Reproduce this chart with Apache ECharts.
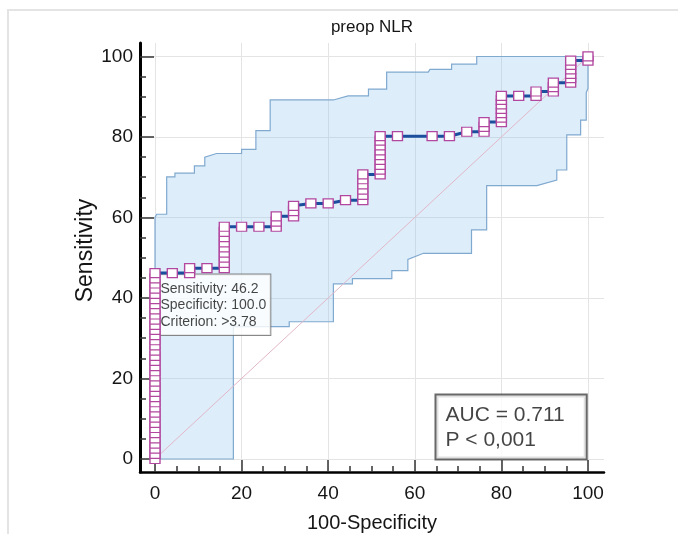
<!DOCTYPE html>
<html><head><meta charset="utf-8">
<script src="https://cdn.jsdelivr.net/npm/echarts@6/dist/echarts.min.js"></script>
<style>html,body{margin:0;padding:0;background:#fff}#c{width:678px;height:534px}</style>
</head><body><div id="c"></div>
<script>
// ---- texts ----
const titleText = 'preop NLR';
const xName = '100-Specificity';
const yName = 'Sensitivity';
// ---- ticks ----
const tickValues = [0, 20, 40, 60, 80, 100];
const minorTickValues = [5, 10, 15, 25, 30, 35, 45, 50, 55, 65, 70, 75, 85, 90, 95];
// ---- ROC points (100-Specificity, Sensitivity) ----
const rocFpr = [
  0,0,0,0,0,0,0,0,0,0,0,0,0,0,0,0,0,0,0,0,0,0,0,0,0,0,0,0,0,0,0,0,0,0,0,0,0,
  4, 8,8, 12,
  16,16,16,16,16,16,16,16,16,
  20, 24, 28,28,28, 32,32,32, 36, 40, 44,
  48,48,48,48,48,48,
  52,52,52,52,52,52,52,52,52,
  56, 64, 68, 72, 76,76,76,
  80,80,80,80,80,80,80,
  84, 88,88, 92,92,92,
  96,96,96,96,96,96,
  100,100
];
const rocSens = [
  0,1.3,2.6,3.8,5.1,6.4,7.7,9.0,10.3,11.5,12.8,14.1,15.4,16.7,17.9,19.2,20.5,21.8,23.1,24.4,25.6,26.9,28.2,29.5,30.8,32.1,33.3,34.6,35.9,37.2,38.5,39.7,41.0,42.3,43.6,44.9,46.2,
  46.2, 46.2,47.4, 47.4,
  47.4,48.7,50.0,51.3,52.6,53.8,55.1,56.4,57.7,
  57.7, 57.7, 57.7,59.0,60.3, 60.3,61.6,62.9, 63.5, 63.5, 64.3,
  64.3,65.6,66.9,68.2,69.5,70.7,
  70.7,71.9,73.1,74.3,75.5,76.7,77.9,79.1,80.2,
  80.2, 80.2, 80.2, 81.3, 81.3,82.5,83.7,
  83.7,84.8,85.9,87.0,88.1,89.2,90.2,
  90.2, 90.2,91.3, 91.3,92.4,93.5,
  93.5,94.6,95.7,96.8,97.9,99.0,
  99.0,100
];
// ---- 95% confidence band outline (closed polygon) ----
const bandX = [0,0,0.4,2.7,2.7,4.6,4.6,9.1,9.1,11.5,11.5,14.2,20.0,20.0,23.3,23.3,26.6,26.6,41.2,44.6,49.3,49.3,53.5,53.5,63.1,63.5,68.5,68.5,74.3,74.3,100,
  100,99.6,99.6,98.3,98.3,95.1,95.1,92.8,92.8,88.2,76.6,76.6,73.1,73.1,62.0,58.4,58.4,54.7,54.7,45.6,45.6,41.2,41.2,31.0,31.0,18.1,18.1,0];
const bandY = [0,60.0,60.8,60.8,70.1,70.1,71.0,71.0,72.8,72.8,75.0,75.9,75.9,76.9,76.9,81.6,81.6,89.2,89.2,90.2,90.2,91.9,91.9,96.1,96.1,96.8,96.8,98.1,98.1,100,100,
  92.1,91.0,84.2,84.2,80.5,80.5,71.8,71.8,69.3,67.9,67.9,56.9,56.9,51.1,51.1,49.6,46.8,46.8,44.8,44.8,43.5,43.5,34.1,34.1,32.9,32.9,0,0];
// ---- reference diagonal ----
const refX = [0, 100];
const refY = [0, 100];
// ---- annotations ----
const cutSens = 46.2, cutSpec = 100.0, cutCrit = '>3.78';
const aucValue = 0.711, pText = 'P < 0,001';

const FONT = 'Liberation Sans, Arial, sans-serif';
const TXT = '#151515';
const chart = echarts.init(document.getElementById('c'), null, {renderer: 'canvas'});

const xMin = -3.464, xMax = 103.7, yMin = -3.23, yMax = 103.35;

chart.setOption({
  animation: false,
  title: {
    text: titleText, left: 367, top: 14, textAlign: 'center',
    textStyle: {fontSize: 17, fontWeight: 'normal', color: TXT, fontFamily: FONT}
  },
  graphic: [{
    type: 'rect', z: -10, silent: true,
    shape: {x: 8, y: 10, width: 720, height: 560},
    style: {fill: 'none', stroke: '#e4e4e4', lineWidth: 2}
  }],
  grid: {left: 140, top: 43, width: 464, height: 429, containLabel: false, outerBoundsMode: 'none'},
  xAxis: [{
    type: 'value', min: xMin, max: xMax, position: 'bottom',
    name: xName, nameLocation: 'middle', nameGap: 41, nameMoveOverlap: false,
    nameTextStyle: {fontSize: 20, color: TXT, fontFamily: FONT},
    axisLine: {show: true, onZero: false, lineStyle: {color: '#000', width: 2.5}},
    axisTick: {show: true, inside: true, length: 12, customValues: tickValues, lineStyle: {color: '#333', width: 1.5}},
    axisLabel: {show: true, customValues: tickValues, margin: 12, fontSize: 19, color: TXT, fontFamily: FONT},
    splitLine: {show: true, lineStyle: {color: '#e4e4e4', width: 1}}
  }, {
    type: 'value', min: xMin, max: xMax, position: 'bottom', offset: 0,
    axisLine: {show: false, onZero: false},
    axisTick: {show: true, inside: true, length: 6, customValues: minorTickValues, lineStyle: {color: '#333', width: 1.5}},
    axisLabel: {show: false},
    splitLine: {show: false}
  }],
  yAxis: [{
    type: 'value', min: yMin, max: yMax, position: 'left',
    name: yName, nameLocation: 'middle', nameGap: 43, nameMoveOverlap: false,
    nameTextStyle: {fontSize: 23, color: TXT, fontFamily: FONT, padding: [0, 0, 0, 14]},
    axisLine: {show: true, onZero: false, lineStyle: {color: '#000', width: 3}},
    axisTick: {show: true, inside: true, length: 14, customValues: tickValues, lineStyle: {color: '#333', width: 1.5}},
    axisLabel: {show: true, customValues: tickValues, margin: 7, fontSize: 19, color: TXT, fontFamily: FONT},
    splitLine: {show: true, lineStyle: {color: '#e4e4e4', width: 1}}
  }, {
    type: 'value', min: yMin, max: yMax, position: 'left', offset: 0,
    axisLine: {show: false, onZero: false},
    axisTick: {show: true, inside: true, length: 6, customValues: minorTickValues, lineStyle: {color: '#333', width: 1.5}},
    axisLabel: {show: false},
    splitLine: {show: false}
  }],
  series: [{
    type: 'custom', name: 'band', z: 1, silent: true,
    xAxisIndex: 0, yAxisIndex: 0,
    data: bandX.map((x, i) => [x, bandY[i]]),
    encode: {x: 0, y: 1},
    renderItem: function (params, api) {
      if (params.dataIndex !== 0) return null;
      const pts = bandX.map((x, i) => api.coord([x, bandY[i]]));
      return {
        type: 'polygon', shape: {points: pts},
        style: {fill: 'rgba(150,200,238,0.32)', stroke: '#80a9d0', lineWidth: 1.2}
      };
    }
  }, {
    type: 'line', name: 'ref', z: 2, silent: true,
    data: refX.map((x, i) => [x, refY[i]]),
    showSymbol: false, symbol: 'none',
    lineStyle: {color: '#e2b6c8', width: 1}
  }, {
    type: 'scatter', name: 'cut', z: 3, silent: true,
    data: [[0, cutSens]], symbolSize: 1,
    itemStyle: {color: 'rgba(0,0,0,0)'},
    label: {
      show: true, position: [1, 2], align: 'left', verticalAlign: 'top',
      formatter: 'Sensitivity: ' + cutSens.toFixed(1) + '\nSpecificity: ' + cutSpec.toFixed(1) + '\nCriterion: ' + cutCrit,
      fontSize: 14, lineHeight: 16.5, color: TXT, fontFamily: FONT,
      backgroundColor: '#fff', borderColor: '#6a6a6a', borderWidth: 1,
      padding: [6, 4, 5, 5]
    }
  }, {
    type: 'line', name: 'ROC', z: 4, silent: true,
    data: rocFpr.map((x, i) => [x, rocSens[i]]),
    showSymbol: true, showAllSymbol: true,
    symbol: 'rect', symbolSize: [10, 9],
    itemStyle: {color: '#ffffff', borderColor: '#b2479f', borderWidth: 1.3},
    lineStyle: {color: '#1b4f9e', width: 3},
    emphasis: {disabled: true}
  }, {
    type: 'scatter', name: 'auc', z: 5, silent: true,
    data: [[100, 0]], symbolSize: 1,
    itemStyle: {color: 'rgba(0,0,0,0)'},
    label: {
      show: true, position: [-151, -63], align: 'left', verticalAlign: 'top',
      formatter: 'AUC = ' + aucValue.toFixed(3) + '\n' + pText,
      fontSize: 21, lineHeight: 25, color: TXT, fontFamily: FONT,
      backgroundColor: '#fff', borderColor: '#444', borderWidth: 2,
      padding: [7, 21, 6, 9]
    }
  }]
});
</script>
</body></html>
